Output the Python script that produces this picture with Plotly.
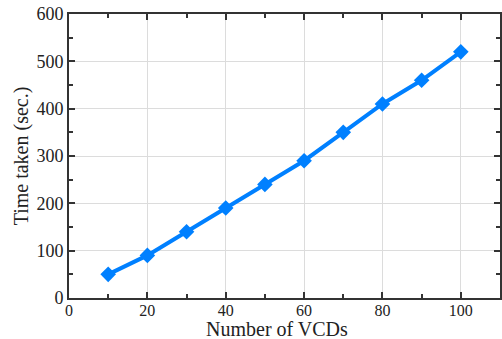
import plotly.graph_objects as go

num_vcds = [10, 20, 30, 40, 50, 60, 70, 80, 90, 100]
time_taken = [50, 90, 140, 190, 240, 290, 350, 410, 460, 520]
x_ticks = [0, 20, 40, 60, 80, 100]
y_ticks = [0, 100, 200, 300, 400, 500, 600]

fig = go.Figure()
fig.add_trace(go.Scatter(
    x=num_vcds, y=time_taken, mode="lines+markers",
    line=dict(color="#0080FF", width=4),
    marker=dict(symbol="diamond", size=12, color="#0080FF"),
    showlegend=False,
))

axis_common = dict(
    showline=True, linecolor="#333333", linewidth=2, mirror="ticks",
    ticks="inside", ticklen=6, tickwidth=1.5, tickcolor="#333333",
    showgrid=True, gridcolor="#dcdcdc", gridwidth=1, zeroline=False,
    automargin=False,
    minor=dict(ticks="inside", ticklen=4, tickwidth=1.5, tickcolor="#333333", showgrid=False),
)

fig.update_layout(
    width=502, height=339,
    margin=dict(l=69, r=2, t=14, b=41),
    paper_bgcolor="white", plot_bgcolor="white",
    font=dict(family="Liberation Serif", color="#222222"),
    xaxis=dict(range=[0, 110], tickvals=x_ticks, ticklabelstandoff=-3,
               tickfont=dict(family="Liberation Serif", size=16, color="#222222"),
               **axis_common),
    yaxis=dict(range=[0, 600], tickvals=y_ticks,
               tickfont=dict(family="Liberation Serif", size=18, color="#222222"),
               title=dict(text="Time taken (sec.)", font=dict(size=20), standoff=2),
               **axis_common),
    annotations=[dict(
        text="Number of VCDs", xref="paper", yref="paper",
        x=0.4826, y=-0.108, xanchor="center", yanchor="middle",
        showarrow=False, font=dict(family="Liberation Serif", size=20, color="#222222"),
    )],
)
fig.update_xaxes(minor=dict(dtick=10))
fig.update_yaxes(minor=dict(dtick=50))

fig.write_html("out.html", config={"displayModeBar": False},
               post_script="document.body.style.margin='0';document.body.style.overflow='hidden';")
